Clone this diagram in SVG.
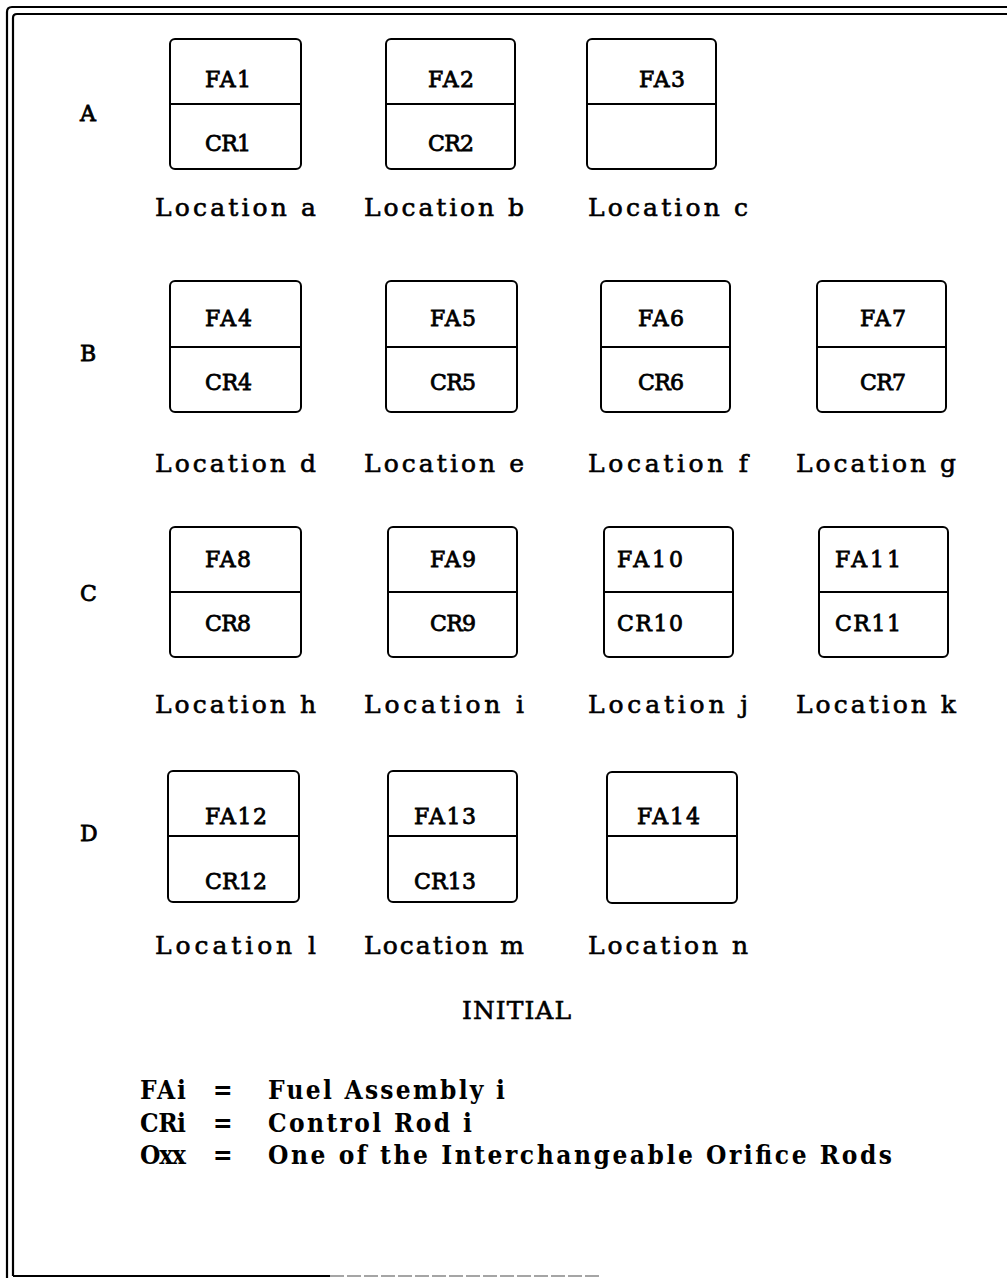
<svg xmlns="http://www.w3.org/2000/svg" width="1007" height="1278" viewBox="0 0 1007 1278">
  <style>
    .frame { fill: none; stroke: #000; stroke-width: 2.2; }
    .cell { fill: #fff; stroke: #000; stroke-width: 2; }
    .div { stroke: #000; stroke-width: 2; }
    .t { font-family: "DejaVu Serif", "Liberation Serif", serif; font-size: 22px; fill: #000; stroke: #000; stroke-width: 0.8; }
    .loc { font-family: "DejaVu Serif", "Liberation Serif", serif; font-size: 25px; fill: #000; stroke: #000; stroke-width: 0.6; }
    .leg { font-family: "DejaVu Serif Condensed", "DejaVu Serif", serif; font-weight: bold; font-size: 26px; fill: #000; }
  </style>

  <!-- double-ruled page frame -->
  <g id="frame">
    <path class="frame" d="M7,1278 V12 Q7,7 12,7 H1007"/>
    <path class="frame" d="M13,1276 V18 Q13,14 17,14 H1007"/>
    <path class="frame" d="M13,1276 H330"/>
    <path d="M330,1276 H600" fill="none" stroke="#888" stroke-width="1.5" stroke-dasharray="14 3"/>
  </g>

  <!-- row labels -->
  <g id="rows">
    <text class="t" x="80" y="121">A</text>
    <text class="t" x="80" y="361">B</text>
    <text class="t" x="80" y="601">C</text>
    <text class="t" x="80" y="841">D</text>
  </g>

  <!-- Row A -->
  <g id="loc-a">
    <rect class="cell" x="170" y="39" width="131" height="130" rx="5"/>
    <line class="div" x1="170" y1="104" x2="301" y2="104"/>
    <text class="t" x="205" y="87" textLength="46">FA1</text>
    <text class="t" x="205" y="151" textLength="46">CR1</text>
    <text class="loc" x="155" y="216" textLength="161">Location a</text>
  </g>
  <g id="loc-b">
    <rect class="cell" x="386" y="39" width="129" height="130" rx="5"/>
    <line class="div" x1="386" y1="104" x2="515" y2="104"/>
    <text class="t" x="428" y="87" textLength="46">FA2</text>
    <text class="t" x="428" y="151" textLength="46">CR2</text>
    <text class="loc" x="364" y="216" textLength="160">Location b</text>
  </g>
  <g id="loc-c">
    <rect class="cell" x="587" y="39" width="129" height="130" rx="5"/>
    <line class="div" x1="587" y1="104" x2="716" y2="104"/>
    <text class="t" x="639" y="87" textLength="46">FA3</text>
    <text class="loc" x="588" y="216" textLength="160">Location c</text>
  </g>

  <!-- Row B -->
  <g id="loc-d">
    <rect class="cell" x="170" y="281" width="131" height="131" rx="5"/>
    <line class="div" x1="170" y1="347" x2="301" y2="347"/>
    <text class="t" x="205" y="326" textLength="47">FA4</text>
    <text class="t" x="205" y="390" textLength="47">CR4</text>
    <text class="loc" x="155" y="472" textLength="161">Location d</text>
  </g>
  <g id="loc-e">
    <rect class="cell" x="386" y="281" width="131" height="131" rx="5"/>
    <line class="div" x1="386" y1="347" x2="517" y2="347"/>
    <text class="t" x="430" y="326" textLength="46">FA5</text>
    <text class="t" x="430" y="390" textLength="46">CR5</text>
    <text class="loc" x="364" y="472" textLength="160">Location e</text>
  </g>
  <g id="loc-f">
    <rect class="cell" x="601" y="281" width="129" height="131" rx="5"/>
    <line class="div" x1="601" y1="347" x2="730" y2="347"/>
    <text class="t" x="638" y="326" textLength="46">FA6</text>
    <text class="t" x="638" y="390" textLength="46">CR6</text>
    <text class="loc" x="588" y="472" textLength="160">Location f</text>
  </g>
  <g id="loc-g">
    <rect class="cell" x="817" y="281" width="129" height="131" rx="5"/>
    <line class="div" x1="817" y1="347" x2="946" y2="347"/>
    <text class="t" x="860" y="326" textLength="46">FA7</text>
    <text class="t" x="860" y="390" textLength="46">CR7</text>
    <text class="loc" x="796" y="472" textLength="160">Location g</text>
  </g>

  <!-- Row C -->
  <g id="loc-h">
    <rect class="cell" x="170" y="527" width="131" height="130" rx="5"/>
    <line class="div" x1="170" y1="592" x2="301" y2="592"/>
    <text class="t" x="205" y="567" textLength="46">FA8</text>
    <text class="t" x="205" y="631" textLength="46">CR8</text>
    <text class="loc" x="155" y="713" textLength="161">Location h</text>
  </g>
  <g id="loc-i">
    <rect class="cell" x="388" y="527" width="129" height="130" rx="5"/>
    <line class="div" x1="388" y1="592" x2="517" y2="592"/>
    <text class="t" x="430" y="567" textLength="46">FA9</text>
    <text class="t" x="430" y="631" textLength="46">CR9</text>
    <text class="loc" x="364" y="713" textLength="160">Location i</text>
  </g>
  <g id="loc-j">
    <rect class="cell" x="604" y="527" width="129" height="130" rx="5"/>
    <line class="div" x1="604" y1="592" x2="733" y2="592"/>
    <text class="t" x="617" y="567" textLength="66">FA10</text>
    <text class="t" x="617" y="631" textLength="66">CR10</text>
    <text class="loc" x="588" y="713" textLength="160">Location j</text>
  </g>
  <g id="loc-k">
    <rect class="cell" x="819" y="527" width="129" height="130" rx="5"/>
    <line class="div" x1="819" y1="592" x2="948" y2="592"/>
    <text class="t" x="835" y="567" textLength="66">FA11</text>
    <text class="t" x="835" y="631" textLength="66">CR11</text>
    <text class="loc" x="796" y="713" textLength="160">Location k</text>
  </g>

  <!-- Row D -->
  <g id="loc-l">
    <rect class="cell" x="168" y="771" width="131" height="131" rx="5"/>
    <line class="div" x1="168" y1="836" x2="299" y2="836"/>
    <text class="t" x="205" y="824" textLength="62">FA12</text>
    <text class="t" x="205" y="889" textLength="62">CR12</text>
    <text class="loc" x="155" y="954" textLength="161">Location l</text>
  </g>
  <g id="loc-m">
    <rect class="cell" x="388" y="771" width="129" height="131" rx="5"/>
    <line class="div" x1="388" y1="836" x2="517" y2="836"/>
    <text class="t" x="414" y="824" textLength="62">FA13</text>
    <text class="t" x="414" y="889" textLength="62">CR13</text>
    <text class="loc" x="364" y="954" textLength="160">Location m</text>
  </g>
  <g id="loc-n">
    <rect class="cell" x="607" y="772" width="130" height="131" rx="5"/>
    <line class="div" x1="607" y1="836" x2="737" y2="836"/>
    <text class="t" x="637" y="824" textLength="63">FA14</text>
    <text class="loc" x="588" y="954" textLength="160">Location n</text>
  </g>

  <!-- connectors: none in this layout -->
  <g id="connectors"/>

  <!-- caption and legend -->
  <g id="caption">
    <text class="loc" x="462" y="1019" textLength="109">INITIAL</text>
  </g>
  <g id="legend">
    <text class="leg" x="140" y="1099" textLength="46">FAi</text>
    <text class="leg" x="213" y="1099">=</text>
    <text class="leg" x="268" y="1099" textLength="237">Fuel Assembly i</text>
    <text class="leg" x="140" y="1132" textLength="46">CRi</text>
    <text class="leg" x="213" y="1132">=</text>
    <text class="leg" x="268" y="1132" textLength="204">Control Rod i</text>
    <text class="leg" x="140" y="1164" textLength="46">Oxx</text>
    <text class="leg" x="213" y="1164">=</text>
    <text class="leg" x="268" y="1164" textLength="624">One of the Interchangeable Orifice Rods</text>
  </g>
</svg>
